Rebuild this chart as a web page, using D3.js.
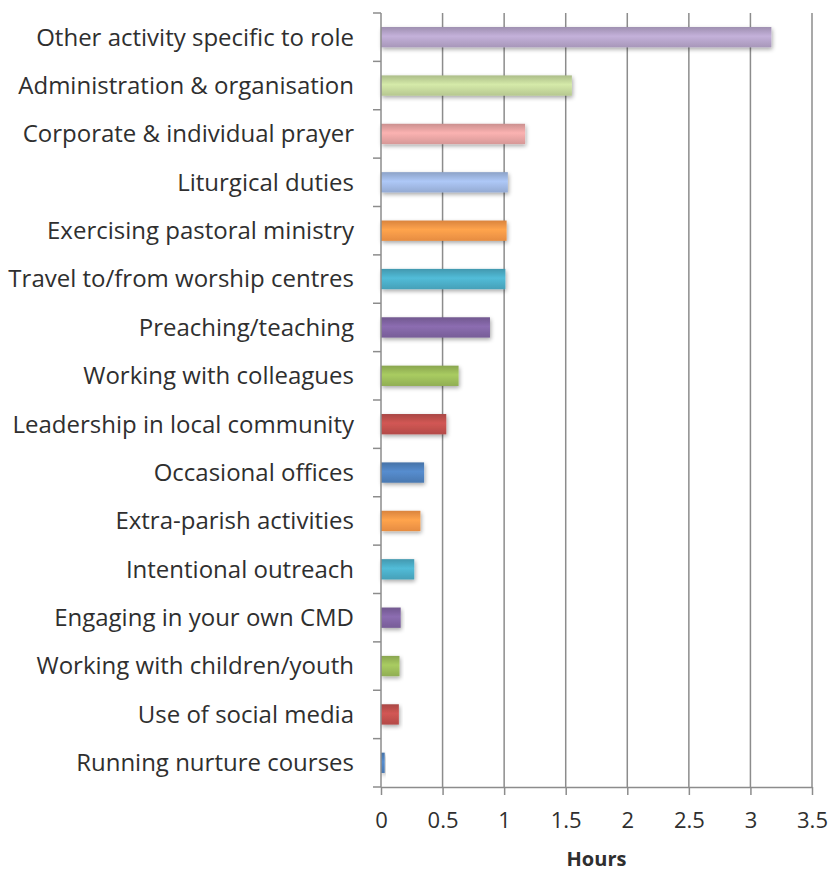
<!DOCTYPE html>
<html>
<head>
<meta charset="utf-8">
<script src="https://cdn.jsdelivr.net/npm/d3@7"></script>
<style>
  body { margin: 0; background: #fff; }
  text { font-family: "Open Sans", sans-serif; }
</style>
</head>
<body>
<div id="chart"></div>
<script>
// Categories, top to bottom
var activities = [
    "Other activity specific to role",
    "Administration & organisation",
    "Corporate & individual prayer",
    "Liturgical duties",
    "Exercising pastoral ministry",
    "Travel to/from worship centres",
    "Preaching/teaching",
    "Working with colleagues",
    "Leadership in local community",
    "Occasional offices",
    "Extra-parish activities",
    "Intentional outreach",
    "Engaging in your own CMD",
    "Working with children/youth",
    "Use of social media",
    "Running nurture courses"
];

// Hours per week
var hours = [3.17, 1.55, 1.17, 1.03, 1.02, 1.01, 0.885, 0.63, 0.53, 0.35, 0.32, 0.27, 0.16, 0.15, 0.145, 0.03];

// One colour per bar (Excel "vary colours by point")
var barColors = [
    "#b3a2c7", "#c3d69b", "#e6a3a2", "#9fb7e2",
    "#f79646", "#4bacc6", "#8064a2", "#9bbb59",
    "#c0504d", "#4f81bd", "#f79646", "#4bacc6",
    "#8064a2", "#9bbb59", "#c0504d", "#4f81bd"
];

var xTicks = [0, 0.5, 1, 1.5, 2, 2.5, 3, 3.5];

var svgWidth = 832;
var svgHeight = 874;

var margin = { top: 13, right: 20, bottom: 87, left: 381 };
var chartWidth = 812 - margin.left;
var chartHeight = svgHeight - margin.top - margin.bottom;

var svg = d3.select("#chart")
    .append("svg")
    .attr("width", svgWidth)
    .attr("height", svgHeight);

var defs = svg.append("defs");

// soft shadow under each bar
var shadow = defs.append("filter")
    .attr("id", "shadow")
    .attr("x", "-10%").attr("y", "-40%")
    .attr("width", "130%").attr("height", "200%");
shadow.append("feGaussianBlur")
    .attr("in", "SourceAlpha")
    .attr("stdDeviation", 2);
shadow.append("feOffset")
    .attr("dx", 1).attr("dy", 2)
    .attr("result", "blur");
shadow.append("feComponentTransfer")
    .append("feFuncA").attr("type", "linear").attr("slope", 0.35);
var merge = shadow.append("feMerge");
merge.append("feMergeNode");
merge.append("feMergeNode").attr("in", "SourceGraphic");

// vertical gradient per colour
barColors.forEach(function(c, i) {
    var g = defs.append("linearGradient")
        .attr("id", "grad" + i)
        .attr("x1", 0).attr("y1", 0).attr("x2", 0).attr("y2", 1);
    g.append("stop").attr("offset", "0%").attr("stop-color", d3.color(c).darker(0.35));
    g.append("stop").attr("offset", "45%").attr("stop-color", d3.color(c).brighter(0.25));
    g.append("stop").attr("offset", "100%").attr("stop-color", d3.color(c).darker(0.2));
});

var chartGroup = svg.append("g")
    .attr("transform", `translate(${margin.left}, ${margin.top})`);

var xScale = d3.scaleLinear()
    .domain([0, 3.5])
    .range([0, chartWidth]);

var yScale = d3.scaleBand()
    .domain(activities)
    .range([0, chartHeight])
    .paddingInner(0.58)
    .paddingOuter(0.29);

// vertical gridlines
chartGroup.selectAll("line.grid")
    .data(xTicks.slice(1))
    .enter()
    .append("line")
    .classed("grid", true)
    .attr("x1", d => xScale(d))
    .attr("x2", d => xScale(d))
    .attr("y1", 0)
    .attr("y2", chartHeight)
    .attr("stroke", "#8c8c8c")
    .attr("stroke-width", 1.5);

// bars
chartGroup.selectAll("rect.bar")
    .data(hours)
    .enter()
    .append("rect")
    .classed("bar", true)
    .attr("x", 0)
    .attr("y", (d, i) => yScale(activities[i]))
    .attr("width", d => xScale(d))
    .attr("height", yScale.bandwidth())
    .attr("fill", (d, i) => `url(#grad${i})`)
    .attr("filter", "url(#shadow)");

// x axis
var xAxis = d3.axisBottom(xScale)
    .tickValues(xTicks)
    .tickFormat(d3.format("~g"))
    .tickSizeInner(8)
    .tickSizeOuter(0)
    .tickPadding(17);

var xg = chartGroup.append("g")
    .attr("transform", `translate(0, ${chartHeight})`)
    .call(xAxis);

// y axis: ticks between categories, labels centred on bars
var boundaries = d3.range(activities.length + 1).map(i => i * chartHeight / activities.length);

chartGroup.append("line")
    .attr("x1", 0).attr("x2", 0)
    .attr("y1", 0).attr("y2", chartHeight)
    .attr("stroke", "#8c8c8c")
    .attr("stroke-width", 1.5);

chartGroup.selectAll("line.ytick")
    .data(boundaries)
    .enter()
    .append("line")
    .classed("ytick", true)
    .attr("x1", -8).attr("x2", 0)
    .attr("y1", d => d).attr("y2", d => d)
    .attr("stroke", "#8c8c8c")
    .attr("stroke-width", 1.5);

chartGroup.selectAll("text.ylabel")
    .data(activities)
    .enter()
    .append("text")
    .classed("ylabel", true)
    .attr("x", -27)
    .attr("y", d => yScale(d) + yScale.bandwidth() / 2)
    .attr("dy", "0.35em")
    .attr("text-anchor", "end")
    .attr("font-size", "24px")
    .attr("fill", "#2f2f2f")
    .text(d => d);

xg.select(".domain")
    .attr("stroke", "#8c8c8c")
    .attr("stroke-width", 1.5);
xg.selectAll(".tick line")
    .attr("stroke", "#8c8c8c")
    .attr("stroke-width", 1.5);
xg.selectAll(".tick text")
    .attr("font-size", "22px")
    .attr("font-family", "Open Sans, sans-serif")
    .attr("fill", "#2f2f2f");

// x axis title
chartGroup.append("text")
    .attr("x", xScale(1.75))
    .attr("y", chartHeight + 79)
    .attr("text-anchor", "middle")
    .attr("font-size", "20px")
    .attr("font-weight", "bold")
    .attr("fill", "#2f2f2f")
    .text("Hours");
</script>
</body>
</html>
